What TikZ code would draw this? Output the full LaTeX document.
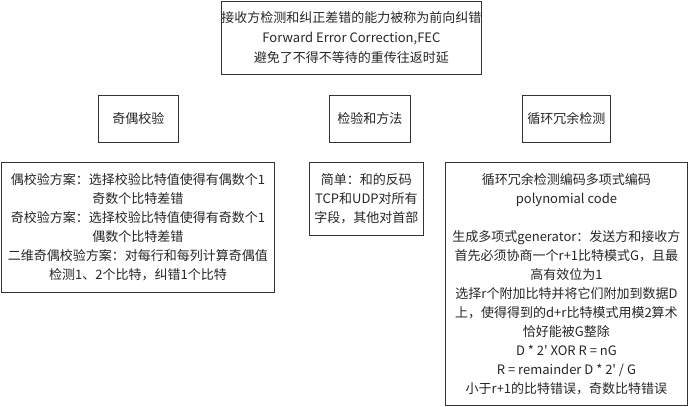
\documentclass[tikz,border=0pt]{standalone}
\usepackage{fontspec}
\setmainfont{Noto Sans CJK SC}
\usetikzlibrary{positioning}
\tikzset{
  box/.style={draw=black!80, line width=0.9pt, align=center, inner sep=0pt, anchor=north west, text=black!85, font=\fontsize{13}{19}\selectfont},
  topbox/.style={box, font=\fontsize{13}{20}\selectfont}
}

\begin{document}
\begin{tikzpicture}[x=1pt, y=-1pt]
  \useasboundingbox (0,0) rectangle (689,407);
  \node[topbox, minimum width=260pt, minimum height=73pt] (fec) at (221,1) {接收方检测和纠正差错的能力被称为前向纠错\\Forward Error Correction,FEC\\避免了不得不等待的重传往返时延};

  \node[box, minimum width=80pt, minimum height=47pt] (parity) at (98,95) {奇偶校验};
  \node[box, minimum width=81pt, minimum height=47pt] (checksum) at (329,95) {检验和方法};
  \node[box, minimum width=88pt, minimum height=47pt] (crc) at (522,95) {循环冗余检测};

  \node[box, minimum width=273pt, minimum height=130pt] (paritydesc) at (1,162) {偶校验方案：选择校验比特值使得有偶数个1\\奇数个比特差错\\奇校验方案：选择校验比特值使得有奇数个1\\偶数个比特差错\\二维奇偶校验方案：对每行和每列计算奇偶值\\检测1、2个比特，纠错1个比特};
  \node[box, minimum width=114pt, minimum height=73pt] (checksumdesc) at (309,162) {简单：和的反码\\TCP和UDP对所有\\字段，其他对首部};
  \node[box, minimum width=242pt, minimum height=243pt] (crcdesc) at (445,162) {循环冗余检测编码多项式编码\\polynomial code\\[19pt]生成多项式generator：发送方和接收方\\首先必须协商一个r+1比特模式G，且最\\高有效位为1\\选择r个附加比特并将它们附加到数据D\\上，使得得到的d+r比特模式用模2算术\\恰好能被G整除\\D * 2\textquotesingle{} XOR R = nG\\R = remainder D * 2\textquotesingle{} / G\\小于r+1的比特错误，奇数比特错误};
\end{tikzpicture}
\end{document}
